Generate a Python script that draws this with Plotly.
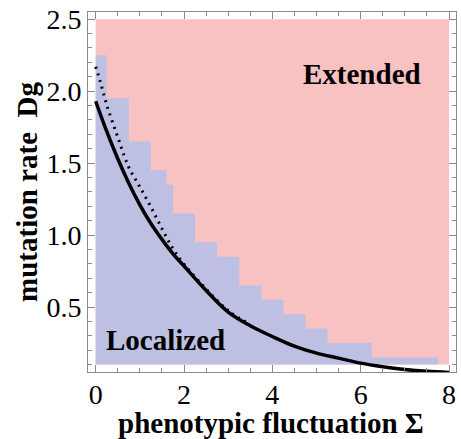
import plotly.graph_objects as go

# ---- data ----
# phase regions
extended_x = [0, 8]
extended_y = [0.1, 2.5]

# localized (blue) staircase: step edges in Sigma and Dg level of each step
step_edges = [0, 0.25, 0.75, 1.25, 1.6, 1.75, 2.25, 2.75, 3.25, 3.75, 4.25, 4.75, 5.25, 6.25, 7.75]
step_levels = [2.25, 1.95, 1.65, 1.45, 1.35, 1.15, 0.95, 0.85, 0.65, 0.55, 0.45, 0.35, 0.25, 0.15]
region_floor = 0.1

# solid theory curve
solid_sigma = [0, 0.25, 0.5, 0.75, 1.0, 1.25, 1.5, 1.75, 2.0, 2.5, 3.0, 3.5, 4.0, 4.5, 5.0, 5.5, 6.0, 6.5, 7.0, 7.5, 8.0]
solid_dg = [1.93, 1.72, 1.53, 1.36, 1.21, 1.08, 0.97, 0.87, 0.785, 0.615, 0.465, 0.37, 0.295, 0.228, 0.18, 0.145, 0.11, 0.085, 0.066, 0.053, 0.045]

# dotted curve
dotted_sigma = [0, 0.1, 0.25, 0.5, 0.75, 1.0, 1.25, 1.5, 1.75, 2.0, 2.5, 3.0, 3.5]
dotted_dg = [2.17, 2.07, 1.905, 1.68, 1.47, 1.335, 1.195, 1.045, 0.905, 0.797, 0.625, 0.475, 0.378]

# region labels
label_text = ["Extended", "Localized"]
label_x = [6.02, 1.58]
label_y = [2.12, 0.27]

x_ticks = [0, 2, 4, 6, 8]
y_ticks = [0.5, 1.0, 1.5, 2.0, 2.5]
y_ticktext = ["0.5", "1.0", "1.5", "2.0", "2.5"]

PINK = "#F8C1C2"
BLUE = "#BDC0E2"
FRAME = "#8a8a8a"
FONT = "Liberation Serif, Times New Roman, serif"

# build staircase polygon from the step data
stair_x = [step_edges[0]]
stair_y = [region_floor]
for i, lvl in enumerate(step_levels):
    stair_x += [step_edges[i], step_edges[i + 1]]
    stair_y += [lvl, lvl]
stair_x += [step_edges[-1], step_edges[0]]
stair_y += [region_floor, region_floor]

fig = go.Figure()

fig.add_trace(go.Scatter(
    x=[extended_x[0], extended_x[1], extended_x[1], extended_x[0], extended_x[0]],
    y=[extended_y[0], extended_y[0], extended_y[1], extended_y[1], extended_y[0]],
    fill="toself", fillcolor=PINK, line=dict(width=0), mode="lines",
    hoverinfo="skip", showlegend=False))

fig.add_trace(go.Scatter(
    x=stair_x, y=stair_y, fill="toself", fillcolor=BLUE,
    line=dict(width=0), mode="lines", hoverinfo="skip", showlegend=False))

fig.add_trace(go.Scatter(
    x=dotted_sigma, y=dotted_dg, mode="lines",
    line=dict(color="black", width=3, dash="2px,5px", shape="spline"),
    showlegend=False))

fig.add_trace(go.Scatter(
    x=solid_sigma, y=solid_dg, mode="lines",
    line=dict(color="black", width=3.5, shape="spline"),
    showlegend=False))

for t, lx, ly in zip(label_text, label_x, label_y):
    fig.add_annotation(x=lx, y=ly, text="<b>%s</b>" % t, showarrow=False,
                       font=dict(family=FONT, size=29, color="black"),
                       xanchor="center", yanchor="middle")

fig.add_annotation(xref="paper", yref="paper", x=0.498, y=-0.142,
                   text="<b>phenotypic fluctuation \u03a3</b>", showarrow=False,
                   font=dict(family=FONT, size=29, color="black"),
                   xanchor="center", yanchor="middle")
fig.add_annotation(xref="paper", yref="paper", x=-0.166, y=0.5,
                   text="<b>mutation rate \u00a0Dg</b>", showarrow=False, textangle=-90,
                   font=dict(family=FONT, size=29, color="black"),
                   xanchor="center", yanchor="middle")

common = dict(ticks="inside", ticklen=7, tickcolor=FRAME, tickwidth=1, showline=True,
              linecolor=FRAME, linewidth=1, mirror="ticks", showgrid=False, zeroline=False,
              ticklabeloverflow="allow",
              tickfont=dict(family=FONT, size=28, color="black"))

fig.update_layout(
    width=461, height=439,
    margin=dict(l=88, r=4, t=4, b=67),
    paper_bgcolor="white", plot_bgcolor="white",
    font=dict(family=FONT, color="black"),
    xaxis=dict(range=[-0.174, 8.158], tickvals=x_ticks, ticklabelstandoff=-3,
               minor=dict(tick0=0, dtick=0.5, ticks="inside", ticklen=4, tickcolor=FRAME, showgrid=False),
               **common),
    yaxis=dict(range=[0.0485, 2.55], tickvals=y_ticks, ticktext=y_ticktext,
               minor=dict(tick0=0, dtick=0.1, ticks="inside", ticklen=4, tickcolor=FRAME, showgrid=False),
               **common),
)

fig.write_html("out.html")
